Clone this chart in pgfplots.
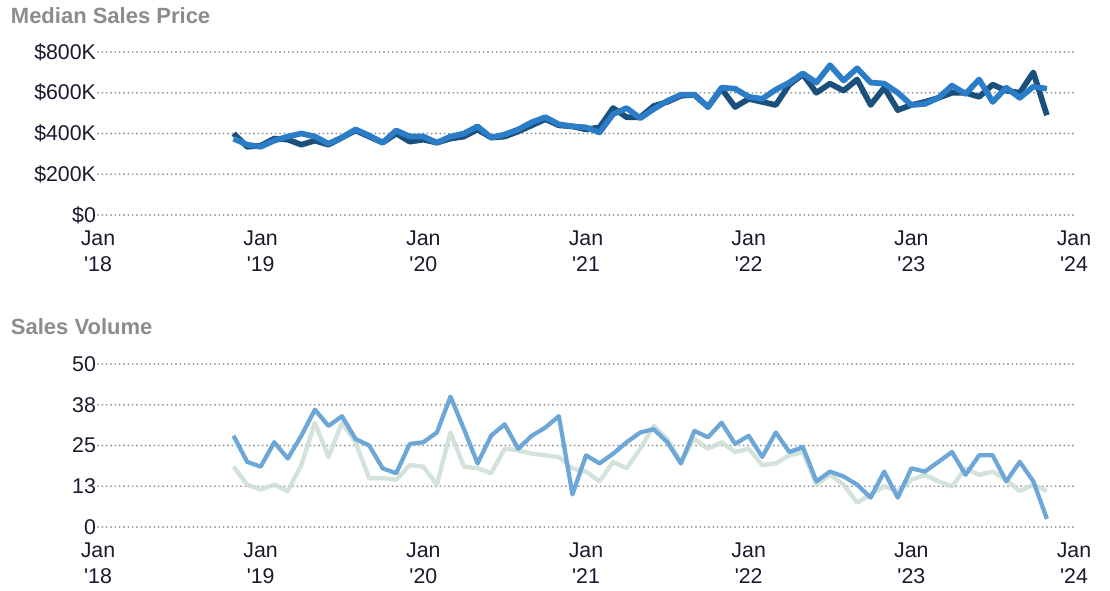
\documentclass[border=0pt]{standalone}
\usepackage{fontspec}
\setmainfont{Liberation Sans}
\usepackage{pgfplots}
\pgfplotsset{compat=1.18}
\definecolor{navy}{HTML}{1B4F7C}
\definecolor{brightblue}{HTML}{2A7DC6}
\definecolor{volblue}{HTML}{6CA7D8}
\definecolor{volpale}{HTML}{CCDED3}
\definecolor{gridgray}{HTML}{9A9A9A}
\definecolor{titlegray}{HTML}{8C8C8C}
\definecolor{ticktext}{HTML}{1A1A2C}
\pgfplotsset{
  basestyle/.style={
    scale only axis, width=732pt, height=122.25pt,
    xmin=0, xmax=72,
    axis line style={draw=none}, tick style={draw=none},
    major tick length=0pt,
    xtick={0,12,24,36,48,60,72},
    xticklabels={{Jan\\\textquotesingle18},{Jan\\\textquotesingle19},{Jan\\\textquotesingle20},{Jan\\\textquotesingle21},{Jan\\\textquotesingle22},{Jan\\\textquotesingle23},{Jan\\\textquotesingle24}},
    ymajorgrids,
    grid style={gridgray, line width=1.6pt, line cap=round, dash pattern=on 0pt off 3.25pt},
    tick label style={font=\fontsize{16}{20}\selectfont, text=ticktext},
    xticklabel style={align=center, yshift=-8pt},
    yticklabel style={xshift=2pt},
    clip=false,
  }
}
\begin{document}
\begin{tikzpicture}
\useasboundingbox (0,0) rectangle (832.5pt,-442.5pt);
\node[anchor=north west, inner sep=0pt, text=titlegray, font=\bfseries\fontsize{16.5}{18}\selectfont] at (8pt,-5.5pt) {Median Sales Price};
\node[anchor=north west, inner sep=0pt, text=titlegray, font=\bfseries\fontsize{16.5}{18}\selectfont] at (8pt,-238.5pt) {Sales Volume};

\begin{axis}[basestyle, at={(73.5pt,-39pt)}, anchor=north west,
  ymin=0, ymax=800, ytick={0,200,400,600,800},
  yticklabels={\$0,\$200K,\$400K,\$600K,\$800K}]
\addplot[navy, line width=4.3pt, line join=round] coordinates {
(10,400)(11,335)(12,340)(13,375)(14,370)(15,345)(16,365)(17,345)(18,380)(19,415)(20,385)(21,355)(22,400)(23,360)(24,370)(25,355)(26,375)(27,385)(28,420)(29,380)(30,385)(31,410)(32,440)(33,470)(34,440)(35,435)(36,420)(37,430)(38,525)(39,480)(40,480)(41,535)(42,555)(43,585)(44,590)(45,530)(46,620)(47,530)(48,570)(49,555)(50,540)(51,640)(52,690)(53,600)(54,645)(55,610)(56,665)(57,540)(58,625)(59,515)(60,540)(61,555)(62,575)(63,600)(64,600)(65,580)(66,640)(67,610)(68,600)(69,700)(70,490)};
\addplot[brightblue, line width=4.3pt, line join=round] coordinates {
(10,375)(11,345)(12,335)(13,365)(14,385)(15,400)(16,385)(17,350)(18,380)(19,420)(20,390)(21,355)(22,415)(23,385)(24,385)(25,355)(26,385)(27,400)(28,435)(29,380)(30,395)(31,420)(32,455)(33,480)(34,445)(35,435)(36,430)(37,405)(38,495)(39,525)(40,475)(41,520)(42,560)(43,590)(44,590)(45,530)(46,625)(47,620)(48,580)(49,570)(50,615)(51,650)(52,695)(53,650)(54,735)(55,660)(56,720)(57,650)(58,645)(59,600)(60,540)(61,545)(62,575)(63,635)(64,595)(65,665)(66,555)(67,625)(68,575)(69,630)(70,620)};
\end{axis}

\begin{axis}[basestyle, at={(73.5pt,-273pt)}, anchor=north west,
  ymin=0, ymax=50, ytick={0,12.5,25,37.5,50},
  yticklabels={0,13,25,38,50}]
\addplot[volpale, line width=3.3pt, line join=round, opacity=0.85] coordinates {
(10,18.5)(11,13)(12,11.5)(13,13)(14,11)(15,19)(16,32)(17,21.5)(18,32)(19,26)(20,15)(21,15)(22,14.5)(23,19)(24,18.5)(25,13)(26,29)(27,18.5)(28,18)(29,16.5)(30,24)(31,23.5)(32,22.5)(33,22)(34,21.5)(35,18)(36,17)(37,14)(38,20)(39,18)(40,24)(41,31)(42,27)(43,20)(44,27)(45,24)(46,26)(47,23)(48,24)(49,19)(50,19.5)(51,22)(52,23)(53,13)(54,16)(55,13)(56,7.5)(57,10)(58,12.5)(59,11)(60,14.5)(61,16)(62,14)(63,12.5)(64,18)(65,16)(66,17)(67,14.5)(68,11)(69,13)(70,11)};
\addplot[volblue, line width=3.2pt, line join=round] coordinates {
(10,28)(11,20)(12,18.5)(13,26)(14,21)(15,28)(16,36)(17,31)(18,34)(19,27)(20,25)(21,18)(22,16.5)(23,25.5)(24,26)(25,29)(26,40)(27,30)(28,19.5)(29,28)(30,31.5)(31,24)(32,28)(33,30.5)(34,34)(35,10)(36,22)(37,19.5)(38,22.5)(39,26)(40,29)(41,30)(42,26)(43,19.5)(44,29.5)(45,27.5)(46,32)(47,25.5)(48,28)(49,21.5)(50,29)(51,23)(52,24.5)(53,14)(54,17)(55,15.5)(56,13)(57,9)(58,17)(59,9)(60,18)(61,17)(62,20)(63,23)(64,16)(65,22)(66,22)(67,14)(68,20)(69,14)(70,2.5)};
\end{axis}
\end{tikzpicture}
\end{document}
